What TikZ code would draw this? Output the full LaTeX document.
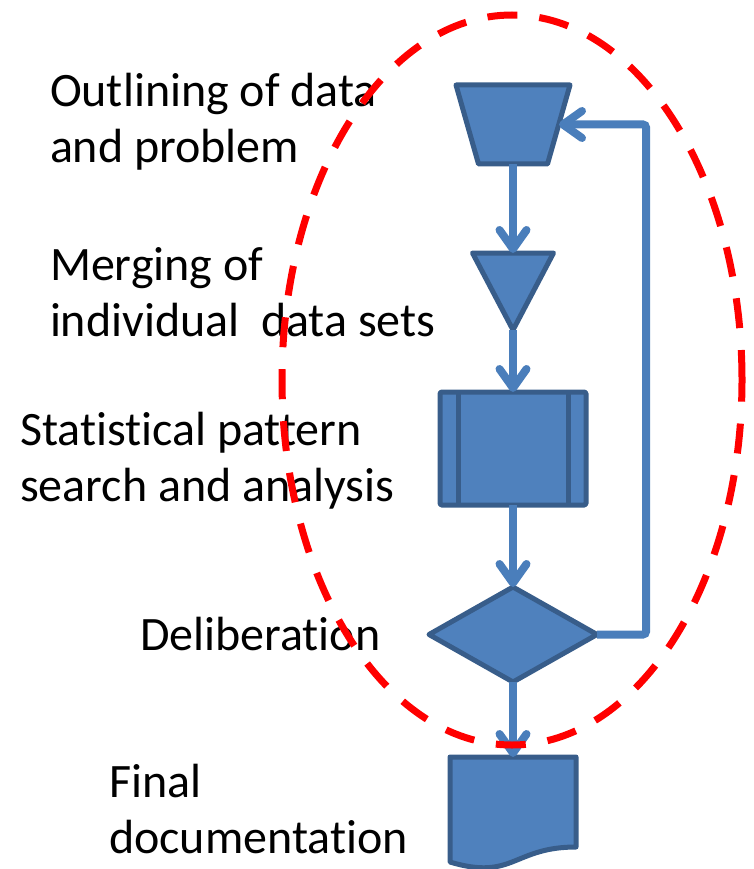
\documentclass[tikz,border=0pt]{standalone}
\usepackage{fontspec}
\setmainfont[Ligatures=NoCommon]{Carlito}
\usetikzlibrary{arrows.meta,shapes.geometric,calc}
\definecolor{fillblue}{HTML}{4F81BD}
\definecolor{edgeblue}{HTML}{385D8A}
\definecolor{connblue}{HTML}{4A7EBB}
\newcommand{\lbltext}[1]{\parbox[t]{430pt}{\fontsize{48}{56}\selectfont\raggedright #1}}
\tikzset{
  frame/.style={inner sep=0pt, outer sep=0pt},
  shapefill/.style={fill=fillblue, draw=edgeblue, line width=5pt, line join=round},
  conn/.style={draw=connblue, line width=8pt, -{Straight Barb[length=19pt,width=27pt,round]}},
  lbl/.style={anchor=base west, inner sep=0pt, outer sep=0pt},
  loopring/.style={draw=red, line width=7pt, dash pattern=on 30pt off 22pt}
}
\begin{document}
\begin{tikzpicture}[x=1pt,y=-1pt]
\useasboundingbox (0,0) rectangle (753,869);

% shapes
\node[frame, minimum width=114pt, minimum height=79pt] (trap) at (513,124.5) {};
\draw[shapefill] (trap.north west) -- (trap.north east) -- ([xshift=-22.5pt]trap.south east) -- ([xshift=22.5pt]trap.south west) -- cycle;

\node[frame, minimum width=81pt, minimum height=77pt] (tri) at (513,291.5) {};
\draw[shapefill] (tri.north west) -- (tri.north east) -- (tri.south) -- cycle;

\node[frame, shapefill, rounded corners=1.5pt, minimum width=146pt, minimum height=113pt] (proc) at (513,448.5) {};
\draw[edgeblue, line width=5pt] ([xshift=18pt]proc.north west) -- ([xshift=18pt]proc.south west);
\draw[edgeblue, line width=5pt] ([xshift=-18pt]proc.north east) -- ([xshift=-18pt]proc.south east);

\node[diamond, frame, shapefill, minimum width=168pt, minimum height=95pt, aspect=1.77] (dec) at (513,634.5) {};

\node[frame, minimum width=126pt, minimum height=112pt] (doc) at (513,813) {};
\draw[shapefill] (doc.north west) -- (doc.north east) -- ($(doc.north east)+(0,90)$)
  .. controls ($(doc.north)+(0,90)$) and ($(doc.north)+(0,124)$) .. ($(doc.north west)+(0,105)$) -- cycle;

% connectors
\draw[conn] (trap.south) -- (tri.north);
\draw[conn] (tri.south) -- (proc.north);
\draw[conn] (proc.south) -- (dec.north);
\draw[conn] (dec.south) -- (doc.north);
\draw[conn, rounded corners=3pt] (dec.east) -- ++(49,0) |- ([xshift=-11pt]trap.east);

% labels
\node[lbl] (t1) at (50,107) {\lbltext{Outlining of data\\and problem}};
\node[lbl] (t2) at (50,280) {\lbltext{Merging of\\individual\ \ data sets}};
\node[lbl] (t3) at (20,445) {\lbltext{Statistical pattern\\search and analysis}};
\node[lbl] (t4) at (140,650) {\lbltext{Deliberation}};
\node[lbl] (t5) at (109,797) {\lbltext{Final\\documentation}};

% dashed loop
\node[ellipse, frame, loopring, minimum width=460pt, minimum height=730pt] (loop) at (512,380) {};
\end{tikzpicture}
\end{document}
